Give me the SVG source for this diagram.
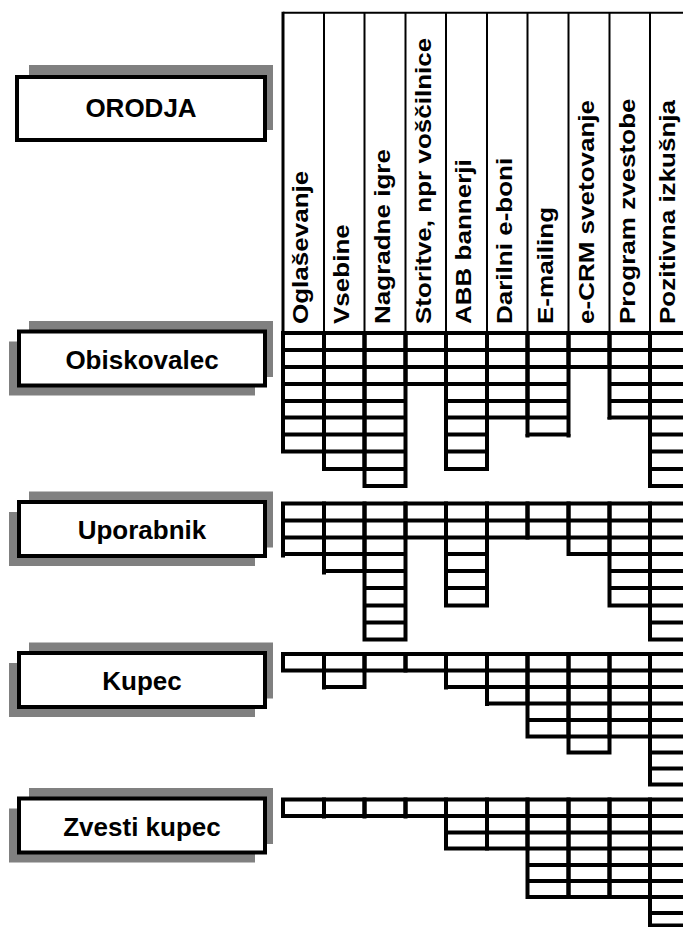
<svg xmlns="http://www.w3.org/2000/svg" width="683" height="927" viewBox="0 0 683 927">
<style>
.shadow{fill:#808080}
.box{fill:#fff;stroke:#000;stroke-width:4}
.lbl{font-family:"Liberation Sans",Arial,sans-serif;font-weight:bold;font-size:26px;text-anchor:middle;fill:#000}
.col{font-family:"Liberation Sans",Arial,sans-serif;font-weight:bold;font-size:21.5px;fill:#000}
.hdr{stroke:#000;stroke-width:2;fill:none}
.cell{fill:none;stroke:#000;stroke-width:4}
</style>
<rect width="683" height="927" fill="#fff"/>

<g id="orodja">
<rect class="shadow" x="29" y="65" width="244" height="65"/>
<rect class="box" x="17" y="77" width="248" height="63"/>
<text class="lbl" x="141" y="117">ORODJA</text>
</g>

<g id="obiskovalec">
<rect class="shadow" x="29" y="321" width="244" height="56"/>
<rect class="shadow" x="9" y="341.5" width="246" height="54"/>
<rect class="box" x="19" y="331.5" width="246" height="54"/>
<text class="lbl" x="142" y="368.5">Obiskovalec</text>
</g>
<g id="uporabnik">
<rect class="shadow" x="29" y="491.5" width="244" height="56"/>
<rect class="shadow" x="9" y="512" width="246" height="54"/>
<rect class="box" x="19" y="502" width="246" height="54"/>
<text class="lbl" x="142" y="539">Uporabnik</text>
</g>
<g id="kupec">
<rect class="shadow" x="29" y="642.5" width="244" height="56"/>
<rect class="shadow" x="9" y="663" width="246" height="54"/>
<rect class="box" x="19" y="653" width="246" height="54"/>
<text class="lbl" x="142" y="690">Kupec</text>
</g>
<g id="zvesti-kupec">
<rect class="shadow" x="29" y="788" width="244" height="56"/>
<rect class="shadow" x="9" y="808.5" width="246" height="54"/>
<rect class="box" x="19" y="798.5" width="246" height="54"/>
<text class="lbl" x="142" y="835.5">Zvesti kupec</text>
</g>

<g id="header">
<path class="hdr" d="M283 12.7H690M324 12.7V333M364.5 12.7V333M405.5 12.7V333M446 12.7V333M487 12.7V333M527.5 12.7V333M568.5 12.7V333M609.5 12.7V333M650 12.7V333"/>
<path d="M283 11.7V333" stroke="#000" stroke-width="3"/>
<text class="col" transform="translate(308,324) rotate(-90) scale(1.21,1)">Oglaševanje</text>
<text class="col" transform="translate(349,324) rotate(-90) scale(1.21,1)">Vsebine</text>
<text class="col" transform="translate(389.5,324) rotate(-90) scale(1.21,1)">Nagradne igre</text>
<text class="col" transform="translate(430.5,324) rotate(-90) scale(1.21,1)">Storitve, npr voščilnice</text>
<text class="col" transform="translate(471,324) rotate(-90) scale(1.21,1)">ABB bannerji</text>
<text class="col" transform="translate(512,324) rotate(-90) scale(1.21,1)">Darilni e-boni</text>
<text class="col" transform="translate(552.5,324) rotate(-90) scale(1.21,1)">E-mailing</text>
<text class="col" transform="translate(593.5,324) rotate(-90) scale(1.21,1)">e-CRM svetovanje</text>
<text class="col" transform="translate(634.5,324) rotate(-90) scale(1.21,1)">Program zvestobe</text>
<text class="col" transform="translate(675,324) rotate(-90) scale(1.21,1)">Pozitivna izkušnja</text>
</g>

<g id="grid">
<g id="grid-obiskovalec">
<rect class="cell" x="283" y="333" width="41" height="118.5"/>
<rect class="cell" x="324" y="333" width="40.5" height="136"/>
<rect class="cell" x="364.5" y="333" width="41" height="153"/>
<rect class="cell" x="405.5" y="333" width="40.5" height="51"/>
<rect class="cell" x="446" y="333" width="41" height="136"/>
<rect class="cell" x="487" y="333" width="40.5" height="84.5"/>
<rect class="cell" x="527.5" y="333" width="41" height="101.5"/>
<rect class="cell" x="568.5" y="333" width="41" height="34"/>
<rect class="cell" x="609.5" y="333" width="40.5" height="84.5"/>
<rect class="cell" x="650" y="333" width="41" height="153"/>
<path class="cell" d="M283 350H691M283 367H691M283 384H405.5M446 384H568.5M609.5 384H691M283 401H405.5M446 401H568.5M609.5 401H691M283 417.5H405.5M446 417.5H487M527.5 417.5H568.5M650 417.5H691M283 434.5H405.5M446 434.5H487M650 434.5H691M324 451.5H405.5M446 451.5H487M650 451.5H691M364.5 469H405.5M650 469H691"/>
<path class="cell" d="M527.5 434V437.5M568.5 434V437.5M609.5 417V419.5"/>
</g>
<g id="grid-uporabnik">
<rect class="cell" x="283" y="503.5" width="41" height="50.5"/>
<rect class="cell" x="324" y="503.5" width="40.5" height="67.5"/>
<rect class="cell" x="364.5" y="503.5" width="41" height="136"/>
<rect class="cell" x="405.5" y="503.5" width="40.5" height="34"/>
<rect class="cell" x="446" y="503.5" width="41" height="102"/>
<rect class="cell" x="487" y="503.5" width="40.5" height="34"/>
<rect class="cell" x="527.5" y="503.5" width="41" height="34"/>
<rect class="cell" x="568.5" y="503.5" width="41" height="50.5"/>
<rect class="cell" x="609.5" y="503.5" width="40.5" height="102"/>
<rect class="cell" x="650" y="503.5" width="41" height="136"/>
<path class="cell" d="M283 520.5H691M283 537.5H405.5M446 537.5H487M568.5 537.5H691M324 554H405.5M446 554H487M609.5 554H691M364.5 571H405.5M446 571H487M609.5 571H691M364.5 588H405.5M446 588H487M609.5 588H691M364.5 605.5H405.5M650 605.5H691M364.5 622.5H405.5M650 622.5H691"/>
<path class="cell" d="M283 553V557.5M324 570V574.5"/>
</g>
<g id="grid-kupec">
<rect class="cell" x="283" y="654" width="41" height="16.5"/>
<rect class="cell" x="324" y="654" width="40.5" height="33"/>
<rect class="cell" x="364.5" y="654" width="41" height="16.5"/>
<rect class="cell" x="405.5" y="654" width="40.5" height="16.5"/>
<rect class="cell" x="446" y="654" width="41" height="33"/>
<rect class="cell" x="487" y="654" width="40.5" height="49.5"/>
<rect class="cell" x="527.5" y="654" width="41" height="82.5"/>
<rect class="cell" x="568.5" y="654" width="41" height="98.5"/>
<rect class="cell" x="609.5" y="654" width="40.5" height="82.5"/>
<rect class="cell" x="650" y="654" width="41" height="130.5"/>
<path class="cell" d="M324 670.5H364.5M446 670.5H691M487 687H691M527.5 703.5H691M527.5 720H691M568.5 736.5H609.5M650 736.5H691M650 752.5H691M650 768.5H691"/>
<path class="cell" d="M324 686V689.5M446 686V689.5M487 702.5V706"/>
</g>
<g id="grid-zvesti">
<rect class="cell" x="283" y="799.5" width="41" height="16.5"/>
<rect class="cell" x="324" y="799.5" width="40.5" height="16.5"/>
<rect class="cell" x="364.5" y="799.5" width="41" height="16.5"/>
<rect class="cell" x="405.5" y="799.5" width="40.5" height="16.5"/>
<rect class="cell" x="446" y="799.5" width="41" height="49"/>
<rect class="cell" x="487" y="799.5" width="40.5" height="49"/>
<rect class="cell" x="527.5" y="799.5" width="41" height="97.5"/>
<rect class="cell" x="568.5" y="799.5" width="41" height="97.5"/>
<rect class="cell" x="609.5" y="799.5" width="40.5" height="97.5"/>
<rect class="cell" x="650" y="799.5" width="41" height="126"/>
<path class="cell" d="M446 816H691M446 832.5H691M527.5 848.5H691M527.5 865H691M527.5 881H691M650 897H691M650 913H691"/>
<path class="cell" d="M324 815V818.5M364.5 815V818.5M405.5 815V818.5"/>
</g>
</g>
</svg>
